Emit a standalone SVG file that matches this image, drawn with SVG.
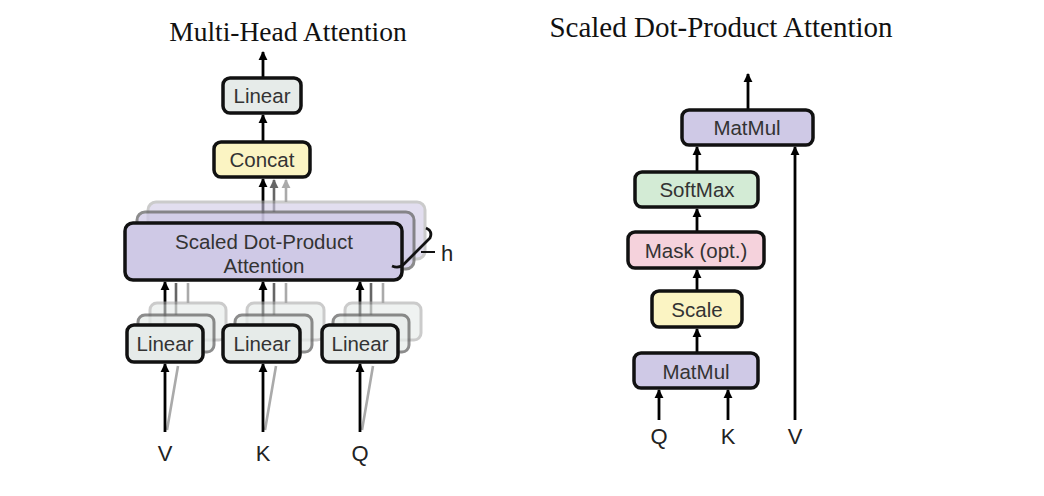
<svg xmlns="http://www.w3.org/2000/svg" width="1044" height="496" viewBox="0 0 1044 496">
<defs>
<marker id="ah" viewBox="0 0 10 10" refX="9" refY="5" markerWidth="9" markerHeight="10" markerUnits="userSpaceOnUse" orient="auto"><path d="M0,0 L10,5 L0,10 z" fill="#000"/></marker>
<marker id="ahg" viewBox="0 0 10 10" refX="9" refY="5" markerWidth="9" markerHeight="10" markerUnits="userSpaceOnUse" orient="auto"><path d="M0,0 L10,5 L0,10 z" fill="#666"/></marker>
<marker id="ahl" viewBox="0 0 10 10" refX="9" refY="5" markerWidth="9" markerHeight="10" markerUnits="userSpaceOnUse" orient="auto"><path d="M0,0 L10,5 L0,10 z" fill="#aaa"/></marker>
</defs>
<style>
.box{stroke:#111;stroke-width:3.5}
.lin{fill:#e6ebe9}
.yel{fill:#fbf4c3}
.pur{fill:#cfc9e6}
.grn{fill:#d3ebd5}
.pnk{fill:#f5d2dc}
.b2{stroke:#666;stroke-width:3;opacity:0.75}
.b3{stroke:#aaa;stroke-width:3;opacity:0.6}
.t{font-family:"Liberation Sans",Arial,sans-serif;font-size:20.5px;fill:#333;text-anchor:middle}
.io{font-family:"Liberation Sans",Arial,sans-serif;font-size:22px;fill:#222;text-anchor:middle}
.ttl{font-family:"Liberation Serif","Times New Roman",serif;fill:#111;text-anchor:middle}
.ar{stroke:#000;stroke-width:2.8;fill:none}
.ag{stroke:#666;stroke-width:2.6;fill:none}
.al{stroke:#aaa;stroke-width:2.6;fill:none}
</style>

<text class="ttl" x="288" y="41" font-size="27.5">Multi-Head Attention</text>
<text class="ttl" x="721" y="37" font-size="29">Scaled Dot-Product Attention</text>

<g id="connectors">
  <path class="al" d="M167,430 L178,366 M265,430 L276,366 M362,430 L373,366"/>
  <path class="al" d="M188,303 V283 M286,303 V283 M383,303 V283"/>
  <path class="ag" d="M176,315 V283 M274,315 V283 M371,315 V283"/>
  <line class="ar" x1="165" y1="432" x2="165" y2="364" marker-end="url(#ah)"/>
  <line class="ar" x1="263" y1="432" x2="263" y2="364" marker-end="url(#ah)"/>
  <line class="ar" x1="360" y1="432" x2="360" y2="364" marker-end="url(#ah)"/>
  <line class="ar" x1="165" y1="325" x2="165" y2="282" marker-end="url(#ah)"/>
  <line class="ar" x1="263" y1="325" x2="263" y2="282" marker-end="url(#ah)"/>
  <line class="ar" x1="360" y1="325" x2="360" y2="282" marker-end="url(#ah)"/>
  <line class="al" x1="286" y1="202" x2="286" y2="180" marker-end="url(#ahl)"/>
  <line class="ag" x1="274" y1="212" x2="274" y2="180" marker-end="url(#ahg)"/>
  <line class="ar" x1="263" y1="223" x2="263" y2="179" marker-end="url(#ah)"/>
  <line class="ar" x1="263" y1="142" x2="263" y2="115" marker-end="url(#ah)"/>
  <line class="ar" x1="263" y1="78" x2="263" y2="52" marker-end="url(#ah)"/>

  <line class="ar" x1="659" y1="420" x2="659" y2="390" marker-end="url(#ah)"/>
  <line class="ar" x1="728" y1="420" x2="728" y2="390" marker-end="url(#ah)"/>
  <line class="ar" x1="795" y1="420" x2="795" y2="147" marker-end="url(#ah)"/>
  <line class="ar" x1="697" y1="353" x2="697" y2="329" marker-end="url(#ah)"/>
  <line class="ar" x1="697" y1="291" x2="697" y2="270" marker-end="url(#ah)"/>
  <line class="ar" x1="697" y1="232" x2="697" y2="209" marker-end="url(#ah)"/>
  <line class="ar" x1="697" y1="172" x2="697" y2="147" marker-end="url(#ah)"/>
  <line class="ar" x1="748" y1="110" x2="748" y2="74" marker-end="url(#ah)"/>
</g>

<g id="linear-v">
  <rect class="lin b3" x="150" y="303" width="76" height="37" rx="7"/>
  <rect class="lin b2" x="138" y="315" width="76" height="37" rx="7"/>
  <rect class="lin box" x="127" y="325" width="76" height="37" rx="7"/>
  <text class="t" x="165" y="351">Linear</text>
</g>
<g id="linear-k">
  <rect class="lin b3" x="247" y="303" width="77" height="37" rx="7"/>
  <rect class="lin b2" x="235" y="315" width="77" height="37" rx="7"/>
  <rect class="lin box" x="223" y="325" width="77" height="37" rx="7"/>
  <text class="t" x="262" y="351">Linear</text>
</g>
<g id="linear-q">
  <rect class="lin b3" x="345" y="303" width="76" height="37" rx="7"/>
  <rect class="lin b2" x="333" y="315" width="76" height="37" rx="7"/>
  <rect class="lin box" x="322" y="325" width="76" height="37" rx="7"/>
  <text class="t" x="360" y="351">Linear</text>
</g>

<g id="sdpa-heads">
  <rect class="pur b3" x="148" y="202" width="277" height="57" rx="8"/>
  <rect class="pur b2" x="137" y="212" width="277" height="57" rx="8"/>
  <rect class="pur box" x="125" y="223" width="277" height="57" rx="8"/>
  <text class="t" x="264" y="249">Scaled Dot-Product</text>
  <text class="t" x="264" y="273">Attention</text>
</g>
<g id="h-bracket">
  <path d="M426,228 Q433,231 430,238 L404,264 Q399,269 392,266" stroke="#111" stroke-width="2.8" fill="none"/>
  <line x1="421" y1="252" x2="435" y2="252" stroke="#111" stroke-width="2"/>
  <text class="io" x="447" y="261">h</text>
</g>

<g id="concat">
  <rect class="yel box" x="214" y="142" width="96" height="35" rx="7"/>
  <text class="t" x="262" y="167">Concat</text>
</g>
<g id="linear-out">
  <rect class="lin box" x="223" y="78" width="78" height="35" rx="7"/>
  <text class="t" x="262" y="103">Linear</text>
</g>

<text class="io" x="165" y="461">V</text>
<text class="io" x="263" y="461">K</text>
<text class="io" x="360" y="461">Q</text>

<g id="matmul-top">
  <rect class="pur box" x="682" y="110" width="131" height="35" rx="7"/>
  <text class="t" x="747" y="135">MatMul</text>
</g>
<g id="softmax">
  <rect class="grn box" x="635" y="172" width="123" height="35" rx="7"/>
  <text class="t" x="697" y="197">SoftMax</text>
</g>
<g id="mask">
  <rect class="pnk box" x="628" y="232" width="136" height="36" rx="7"/>
  <text class="t" x="696" y="258">Mask (opt.)</text>
</g>
<g id="scale">
  <rect class="yel box" x="652" y="291" width="90" height="36" rx="7"/>
  <text class="t" x="697" y="317">Scale</text>
</g>
<g id="matmul-bottom">
  <rect class="pur box" x="634" y="353" width="124" height="35" rx="7"/>
  <text class="t" x="696" y="379">MatMul</text>
</g>

<text class="io" x="659" y="444">Q</text>
<text class="io" x="728" y="444">K</text>
<text class="io" x="795" y="444">V</text>
</svg>
